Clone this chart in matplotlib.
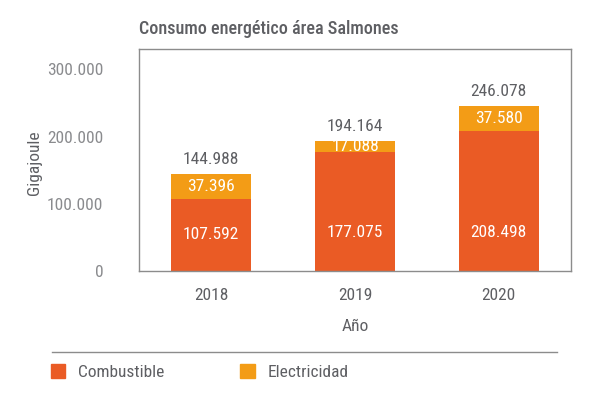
import matplotlib.pyplot as plt
from matplotlib.lines import Line2D
from matplotlib.patches import Patch

plt.rcParams['font.family'] = ['Roboto Condensed', 'DejaVu Sans']

# data
years = ["2018", "2019", "2020"]
combustible = [107592, 177075, 208498]
electricidad = [37396, 17088, 37580]
totals = [144988, 194164, 246078]
yticks = [0, 100000, 200000, 300000]
ytick_labels = ["0", "100.000", "200.000", "300.000"]

c_comb = "#EA5B25"
c_elec = "#F39C16"
grey_dark = "#5E5F63"
grey_light = "#8A8B8E"
fs = 12.5


def fmt(v):
    return f"{v:,}".replace(",", ".")


fig = plt.figure(figsize=(6.04, 3.96), dpi=100)
ax = fig.add_axes([0.2306, 0.3157, 0.7143, 0.5598])

x = range(len(years))
ax.bar(x, combustible, width=0.56, color=c_comb)
ax.bar(x, electricidad, width=0.56, bottom=combustible, color=c_elec)

for i in x:
    ax.text(i, min(combustible[i] / 2, 57000), fmt(combustible[i]),
            ha="center", va="center", color="white", fontsize=fs)
    ax.text(i, combustible[i] + electricidad[i] / 2, fmt(electricidad[i]),
            ha="center", va="center", color="white", fontsize=fs)
    ax.annotate(fmt(totals[i]), (i, combustible[i] + electricidad[i]),
                xytext=(0, 10), textcoords="offset points",
                ha="center", va="center", color=grey_dark, fontsize=fs)

ax.set_xlim(-0.5, 2.5)
ax.set_ylim(0, 330000)
ax.set_xticks(list(x))
ax.set_xticklabels(years, color=grey_dark, fontsize=fs)
ax.set_yticks(yticks)
ax.set_yticklabels(ytick_labels, color=grey_light, fontsize=fs)
ax.tick_params(length=0, pad=12)
ax.tick_params(axis="y", pad=26)
for s in ax.spines.values():
    s.set_color("#8C8C8C")
    s.set_linewidth(1)

ax.set_xlabel("Año", color=grey_dark, fontsize=fs, labelpad=12)
ax.set_ylabel("Gigajoule", color=grey_dark, fontsize=fs)
ax.yaxis.set_label_coords(-0.226, 0.49)

fig.text(139 / 604, 1 - 29 / 396, "Consumo energético área Salmones",
         ha="left", va="center", color=grey_dark, fontsize=13, fontweight="medium")

fig.add_artist(Line2D([52 / 604, 557 / 604], [1 - 352 / 396] * 2,
                      color="#8C8C8C", linewidth=1))

handles = [Patch(color=c_comb, label="Combustible"),
           Patch(color=c_elec, label="Electricidad")]
fig.legend(handles=handles, loc="center left", bbox_to_anchor=(35 / 604, 1 - 372 / 396),
           ncol=2, frameon=False, fontsize=fs, handlelength=0.85, handleheight=0.85,
           handletextpad=0.7, columnspacing=4.4, labelcolor=grey_dark)

fig.savefig("out.png", dpi=100)
